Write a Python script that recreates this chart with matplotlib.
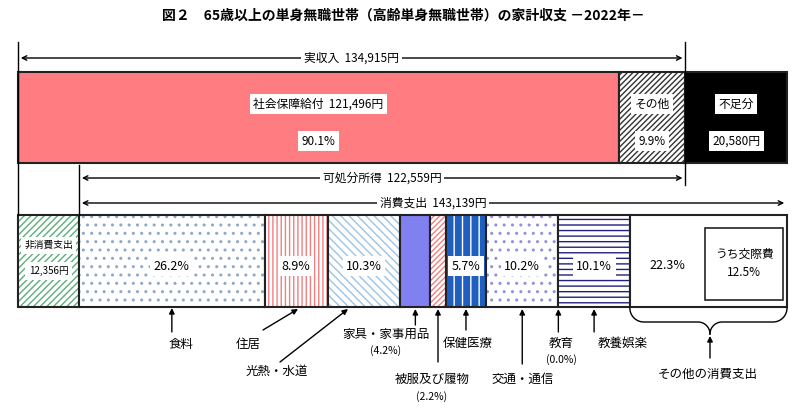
import matplotlib.pyplot as plt
import matplotlib.patches as mpatches
import numpy as np

plt.rcParams['font.family'] = 'Noto Sans CJK JP'

# 収入側
income_labels = ['社会保障給付', 'その他', '不足分']
income_values = [121496, 13419, 20580]
income_pct = ['90.1%', '9.9%', '']
total_income = 134915
disposable = 122559
consumption = 143139
non_consumption = 12356

# 消費支出の内訳 (%)
cons_labels = ['食料', '住居', '光熱・水道', '家具・家事用品', '被服及び履物',
               '保健医療', '交通・通信', '教育', '教養娯楽', 'その他の消費支出']
cons_pct = [26.2, 8.9, 10.3, 4.2, 2.2, 5.7, 10.2, 0.0, 10.1, 22.3]
kousai_pct = 12.5

fig = plt.figure(figsize=(8.06, 4.11), dpi=100)
ax = fig.add_axes([0, 0, 1, 1])
ax.set_xlim(0, 806)
ax.set_ylim(411, 0)
ax.axis('off')

X0, X1 = 18, 787
scale = (X1 - X0) / (consumption + non_consumption)


def box(x, y, w, h, fc='none', hatch=None, hc='black', lw=1.5):
    ax.add_patch(mpatches.Rectangle((x, y), w, h, facecolor=fc, edgecolor=hc,
                                    hatch=hatch, linewidth=0))
    ax.add_patch(mpatches.Rectangle((x, y), w, h, fill=False, edgecolor='#222222', linewidth=lw))


def label(x, y, s, size=8.5, pad=0.25):
    ax.text(x, y, s, ha='center', va='center', fontsize=size,
            bbox=dict(facecolor='white', edgecolor='none', pad=pad * 10))


def harrow(x0, x1, y, s):
    ax.annotate('', xy=(x0, y), xytext=(x1, y),
                arrowprops=dict(arrowstyle='<->', lw=1, color='black', mutation_scale=8))
    label((x0 + x1) / 2, y, s, size=8.5, pad=0.2)


ax.text(403, 16, '図２　65歳以上の単身無職世帯（高齢単身無職世帯）の家計収支 －2022年－',
        ha='center', va='center', fontsize=10, fontweight='bold')

# 上段
TY, TH = 72, 91
xs = X0
widths = [v * scale for v in income_values]
box(xs, TY, widths[0], TH, fc='#FF7C80')
label(xs + widths[0] / 2, 104, f'{income_labels[0]}  {income_values[0]:,}円')
label(xs + widths[0] / 2, 141, income_pct[0])
xs += widths[0]
box(xs, TY, widths[1], TH, fc='white', hatch='//////', hc='#333333')
label(xs + widths[1] / 2, 104, income_labels[1])
label(xs + widths[1] / 2, 141, income_pct[1])
xs += widths[1]
x_income_end = xs
box(xs, TY, widths[2], TH, fc='black')
label(xs + widths[2] / 2, 104, income_labels[2])
label(xs + widths[2] / 2, 141, f'{income_values[2]:,}円')

# 縦線
x_nc = X0 + non_consumption * scale
ax.plot([X0, X0], [42, 215], color='black', lw=1)
ax.plot([x_income_end, x_income_end], [42, 185], color='black', lw=1)
ax.plot([x_nc, x_nc], [165, 215], color='black', lw=1)

harrow(X0, x_income_end, 58, f'実収入  {total_income:,}円')
harrow(x_nc, x_income_end, 178, f'可処分所得  {disposable:,}円')
harrow(x_nc, X1, 203, f'消費支出  {consumption:,}円')

# 下段
BY, BH = 215, 92
box(X0, BY, x_nc - X0, BH, fc='white', hatch='/////', hc='#5BAF7A')
label((X0 + x_nc) / 2, 245, '非消費支出', size=7)
label((X0 + x_nc) / 2, 271, f'{non_consumption:,}円', size=7)

styles = [('white', '..', '#8FA8C8'), ('white', '||||', '#F08080'), ('white', '\\\\\\\\', '#9DC3E6'),
          ('#8080F0', None, '#8080F0'), ('white', '//////', '#F08080'), ('#1F5FBF', '||', 'white'),
          ('white', '..', '#9090E0'), ('white', None, 'black'), ('white', '---', '#202080'),
          ('white', None, 'black')]
cons_w = [p / 100 * consumption * scale for p in cons_pct]
edges = [x_nc]
for w in cons_w:
    edges.append(edges[-1] + w)
edges[-1] = X1
for i, (fc, h, hc) in enumerate(styles):
    if cons_w[i] <= 0:
        continue
    box(edges[i], BY, edges[i + 1] - edges[i], BH, fc=fc, hatch=h, hc=hc)
    if cons_pct[i] >= 5 and i != 9:
        label((edges[i] + edges[i + 1]) / 2, 266, f'{cons_pct[i]}%', size=9)
label((edges[9] + 705) / 2, 265, f'{cons_pct[9]}%', size=9, pad=0)
ax.add_patch(mpatches.Rectangle((705, 228), 78, 72, fill=False, edgecolor='#222222', lw=1.2))
ax.text(744, 254, 'うち交際費', ha='center', va='center', fontsize=8.5)
ax.text(744, 272, f'{kousai_pct}%', ha='center', va='center', fontsize=8.5)


def uparrow(x0, y0, x1, y1):
    ax.annotate('', xy=(x1, y1), xytext=(x0, y0),
                arrowprops=dict(arrowstyle='-|>', lw=1, color='black', mutation_scale=8,
                                shrinkA=0, shrinkB=0))


mid = [(edges[i] + edges[i + 1]) / 2 for i in range(len(cons_pct))]
# 食料
uparrow(mid[0], 332, mid[0], 308)
ax.text(181, 344, cons_labels[0], ha='center', va='center', fontsize=9)
# 住居
uparrow(263, 330, 298, 309)
ax.text(248, 344, cons_labels[1], ha='center', va='center', fontsize=9)
# 光熱・水道
uparrow(280, 362, 348, 309)
ax.text(277, 371, cons_labels[2], ha='center', va='center', fontsize=9)
# 家具・家事用品
uparrow(mid[3], 325, mid[3], 309)
ax.text(386, 334, cons_labels[3], ha='center', va='center', fontsize=9)
ax.text(386, 351, f'({cons_pct[3]}%)', ha='center', va='center', fontsize=7.5)
# 被服及び履物
uparrow(mid[4], 362, mid[4], 309)
ax.text(432, 379, cons_labels[4], ha='center', va='center', fontsize=9)
ax.text(432, 397, f'({cons_pct[4]}%)', ha='center', va='center', fontsize=7.5)
# 保健医療
uparrow(mid[5], 330, mid[5], 309)
ax.text(468, 343, cons_labels[5], ha='center', va='center', fontsize=9)
# 交通・通信
uparrow(mid[6], 364, mid[6], 309)
ax.text(523, 379, cons_labels[6], ha='center', va='center', fontsize=9)
# 教育
uparrow(edges[7], 332, edges[7], 309)
ax.text(561, 343, cons_labels[7], ha='center', va='center', fontsize=9)
ax.text(561, 360, f'({cons_pct[7]:.1f}%)', ha='center', va='center', fontsize=7.5)
# 教養娯楽
uparrow(mid[8], 332, mid[8], 309)
ax.text(623, 343, cons_labels[8], ha='center', va='center', fontsize=9)

# その他の消費支出 (波括弧)
bx0, bx1, tip = edges[9], X1, 710
r1, r2, ytop, ymid, ybot = 14, 12, 308, 322, 334
for sgn, xe in ((1, bx0), (-1, bx1)):
    a = np.linspace(np.pi, np.pi / 2, 30)
    c1x, c1y = xe + sgn * r1, ytop
    px = list(c1x + sgn * r1 * np.cos(a))
    py = list(c1y + r1 * np.sin(a))
    a2 = np.linspace(-np.pi / 2, 0, 30)
    c2x, c2y = tip - sgn * r2, ybot
    px += list(c2x + sgn * r2 * np.cos(a2))
    py += list(c2y + r2 * np.sin(a2))
    ax.plot(px, py, color='black', lw=1)
uparrow(tip, 358, tip, 336)
ax.text(708, 374, cons_labels[9], ha='center', va='center', fontsize=9)

fig.savefig('out.png', dpi=100)
